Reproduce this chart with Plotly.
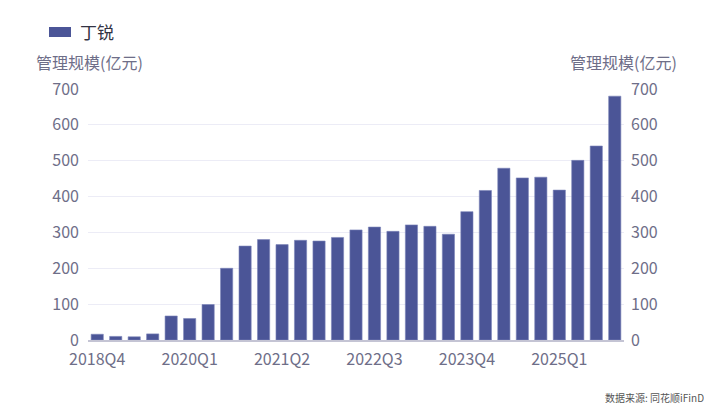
import plotly.graph_objects as go

categories = ["2018Q4", "2019Q1", "2019Q2", "2019Q3", "2019Q4",
              "2020Q1", "2020Q2", "2020Q3", "2020Q4",
              "2021Q1", "2021Q2", "2021Q3", "2021Q4",
              "2022Q1", "2022Q2", "2022Q3", "2022Q4",
              "2023Q1", "2023Q2", "2023Q3", "2023Q4",
              "2024Q1", "2024Q2", "2024Q3", "2024Q4",
              "2025Q1", "2025Q2", "2025Q3", "2025Q4"]
values = [16, 10, 9, 17, 67,
          60, 99, 200, 262,
          280, 266, 278, 276,
          286, 307, 315, 303,
          321, 317, 295, 358,
          417, 479, 452, 454,
          418, 501, 541, 680]
tick_labels = categories[::5]
y_ticks = [0, 100, 200, 300, 400, 500, 600, 700]
series_name = "丁锐"
axis_title = "管理规模(亿元)"
source_text = "数据来源: 同花顺iFinD"

FONT = "Noto Sans CJK SC, Microsoft YaHei, sans-serif"
BAR = "#4b5597"
TXT = "#6e6e88"

# page body has an 8px margin, so the figure is drawn 8px in from the top-left
OFF = 8
W, H = 712 - OFF, 405 - OFF
ML, MT = 88 - OFF, 89 - OFF
MR = W - (624 - OFF)
MB = H - (340 - OFF)
pw, ph = W - ML - MR, H - MT - MB
def px(xp): return (xp - OFF - ML) / pw
def py(yp): return (H - MB - (yp - OFF)) / ph

fig = go.Figure()
fig.add_trace(go.Bar(x=categories, y=values, name=series_name,
                     marker=dict(color=BAR, line=dict(color="#7c84b8", width=0.6)),
                     yaxis="y", showlegend=False))
fig.add_trace(go.Scatter(x=categories, y=values, yaxis="y2", mode="lines",
                         line=dict(width=0), opacity=0, showlegend=False,
                         hoverinfo="skip"))

fig.update_layout(
    width=W, height=H,
    margin=dict(l=ML, r=MR, t=MT, b=MB, autoexpand=False),
    paper_bgcolor="white", plot_bgcolor="white",
    font=dict(family=FONT, color=TXT, size=16),
    bargap=0.34,
    showlegend=False,
    xaxis=dict(type="category", tickmode="array", tickvals=tick_labels,
               ticktext=tick_labels, showgrid=False, showline=True,
               linecolor="#c4c4d4", linewidth=2, ticks="",
               ticklabelstandoff=4,
               tickfont=dict(size=16, color=TXT)),
    yaxis=dict(range=[0, 700], tickvals=y_ticks, showgrid=True,
               gridcolor="#ececf6", gridwidth=1, zeroline=False,
               showline=False, ticks="", ticklabelstandoff=8,
               tickfont=dict(size=16, color=TXT)),
    yaxis2=dict(range=[0, 700], tickvals=y_ticks, overlaying="y", side="right",
                showgrid=False, zeroline=False, showline=False, ticks="",
                ticklabelstandoff=6,
                tickfont=dict(size=16, color=TXT)),
)

fig.add_annotation(text=axis_title, x=px(89), y=py(62), xref="paper", yref="paper",
                   showarrow=False, xanchor="center", yanchor="middle",
                   font=dict(size=16, color=TXT))
fig.add_annotation(text=axis_title, x=px(623), y=py(62), xref="paper", yref="paper",
                   showarrow=False, xanchor="center", yanchor="middle",
                   font=dict(size=16, color=TXT))
fig.add_annotation(text=source_text, x=px(706), y=py(397), xref="paper", yref="paper",
                   showarrow=False, xanchor="right", yanchor="middle",
                   font=dict(size=10, color="#555555"))
# legend (manual: wide rectangle symbol + name)
fig.add_shape(type="rect", xref="paper", yref="paper",
              x0=px(49), x1=px(71), y0=py(37), y1=py(27),
              fillcolor=BAR, line=dict(width=0))
fig.add_annotation(text=series_name, x=px(78), y=py(32), xref="paper", yref="paper",
                   showarrow=False, xanchor="left", yanchor="middle",
                   font=dict(size=17, color="#333344"))

fig.write_html("out.html")
